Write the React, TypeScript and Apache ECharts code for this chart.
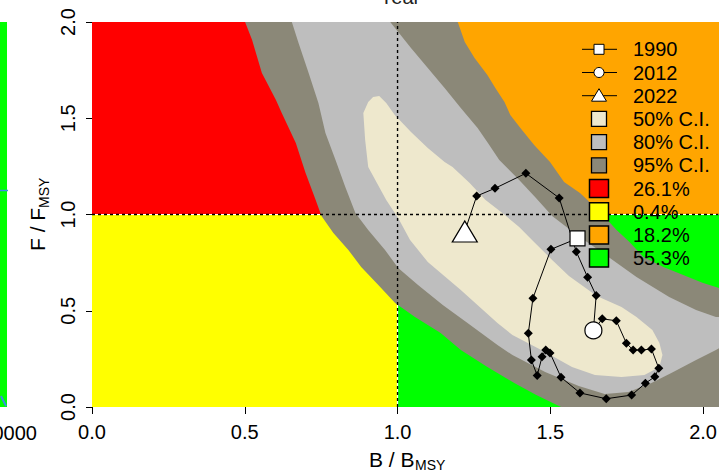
import React, { useEffect, useRef } from 'react';
import * as echarts from 'echarts';

const FONT = '"Liberation Sans", Arial, Helvetica, sans-serif';

// ---- axes ----
const bMax = 2.05;
const fMax = 2;
const tickStep = 0.5;

// ---- stock trajectory (B/Bmsy, F/Fmsy) ----
const trajB = [1.589, 1.502, 1.443, 1.428, 1.438, 1.457, 1.473, 1.485, 1.499, 1.535, 1.597, 1.683, 1.766, 1.811, 1.842, 1.855, 1.831, 1.798, 1.771, 1.749, 1.716, 1.670, 1.641, 1.650, 1.622, 1.585, 1.529, 1.420, 1.319, 1.259, 1.220];
const trajF = [0.876, 0.819, 0.565, 0.383, 0.244, 0.164, 0.261, 0.296, 0.281, 0.154, 0.073, 0.043, 0.062, 0.123, 0.157, 0.201, 0.301, 0.296, 0.296, 0.331, 0.448, 0.458, 0.398, 0.579, 0.674, 0.807, 1.086, 1.214, 1.136, 1.096, 0.912];
const markYears = ['1990', '2012', '2022'];
const markIdx = [0, 22, 30];

// ---- Kobe quadrants: red, yellow, orange, green ----
const quadB0 = [0, 0, 1, 1];
const quadB1 = [1, 1, 2.6, 2.6];
const quadF0 = [1, 0, 1, 0];
const quadF1 = [2.6, 1, 2.6, 1];
const quadPct = [26.1, 0.4, 18.2, 55.3];
const quadColors = ['#FF0000', '#FFFF00', '#FFA500', '#00FF00'];

// ---- confidence regions (B/Bmsy, F/Fmsy outlines) ----
const ci50 = [[0.904, 1.585], [0.920, 1.610], [0.940, 1.616], [0.963, 1.579], [0.991, 1.517], [1.044, 1.429], [1.099, 1.345], [1.154, 1.273], [1.180, 1.247], [1.236, 1.164], [1.288, 1.075], [1.343, 1.008], [1.398, 0.935], [1.450, 0.852], [1.506, 0.764], [1.561, 0.681], [1.652, 0.577], [1.733, 0.519], [1.782, 0.468], [1.834, 0.400], [1.857, 0.332], [1.867, 0.270], [1.857, 0.208], [1.808, 0.166], [1.733, 0.156], [1.646, 0.166], [1.571, 0.208], [1.483, 0.286], [1.376, 0.374], [1.327, 0.436], [1.207, 0.608], [1.099, 0.753], [1.041, 0.868], [1.002, 0.982], [0.963, 1.075], [0.904, 1.247], [0.894, 1.387], [0.888, 1.527]];
const ci80 = [[0.644, 2.052], [0.654, 2.000], [0.676, 1.891], [0.709, 1.735], [0.741, 1.579], [0.764, 1.423], [0.797, 1.283], [0.829, 1.143], [0.862, 1.008], [0.904, 0.919], [0.959, 0.816], [1.002, 0.722], [1.067, 0.634], [1.148, 0.530], [1.229, 0.436], [1.327, 0.322], [1.376, 0.270], [1.483, 0.182], [1.593, 0.109], [1.678, 0.068], [1.756, 0.078], [1.831, 0.125], [1.896, 0.177], [1.977, 0.244], [2.042, 0.296], [2.124, 0.374], [2.140, 0.426], [2.107, 0.462], [2.042, 0.468], [1.977, 0.504], [1.889, 0.571], [1.782, 0.675], [1.672, 0.800], [1.587, 0.894], [1.506, 0.992], [1.450, 1.091], [1.398, 1.179], [1.333, 1.283], [1.298, 1.366], [1.262, 1.449], [1.207, 1.553], [1.154, 1.657], [1.099, 1.761], [1.044, 1.865], [0.976, 2.000], [0.953, 2.052]];
const ci95 = [[0.491, 2.052], [0.501, 2.000], [0.524, 1.906], [0.556, 1.735], [0.602, 1.595], [0.621, 1.527], [0.667, 1.371], [0.699, 1.216], [0.732, 1.075], [0.751, 0.992], [0.790, 0.904], [0.839, 0.816], [0.881, 0.727], [0.937, 0.634], [0.992, 0.540], [1.057, 0.468], [1.141, 0.384], [1.207, 0.296], [1.294, 0.208], [1.382, 0.125], [1.454, 0.062], [1.535, 0.000], [1.620, -0.068], [2.300, -0.120], [2.300, 0.504], [2.172, 0.556], [2.042, 0.623], [2.000, 0.644], [1.935, 0.686], [1.870, 0.727], [1.805, 0.779], [1.759, 0.857], [1.717, 0.919], [1.678, 0.987], [1.646, 1.039], [1.597, 1.112], [1.545, 1.169], [1.499, 1.273], [1.447, 1.361], [1.402, 1.449], [1.369, 1.517], [1.350, 1.584], [1.320, 1.657], [1.294, 1.725], [1.252, 1.813], [1.220, 1.896], [1.197, 2.000], [1.187, 2.052]];
const ciRegions = [ci50, ci80, ci95];
const ciLabels = ['50% C.I.', '80% C.I.', '95% C.I.'];
const ciColors = ['#EEE8CD', '#BEBEBE', '#8B8878'];

function buildOption() {
  const drawOrder = [2, 1, 0];
  const fmt = (v: number) =>
    Math.abs(v / tickStep - Math.round(v / tickStep)) < 1e-6 ? v.toFixed(1) : '';

  // legend graphics
  const symX = 599;
  const textX = 633;
  const rowY = (i: number) => 49.3 + i * 23.2;
  const legend: any[] = [];
  const rowLabels = [...markYears, ...ciLabels, ...quadPct.map((p) => `${p.toFixed(1)}%`)];
  rowLabels.forEach((label, i) => {
    const y = rowY(i);
    if (i < 3) {
      legend.push({ type: 'line', z: 20, shape: { x1: 582, y1: y, x2: 617, y2: y }, style: { stroke: '#000', lineWidth: 1 } });
      if (i === 0) legend.push({ type: 'rect', z: 21, shape: { x: symX - 5, y: y - 5, width: 10, height: 10 }, style: { fill: '#fff', stroke: '#000', lineWidth: 1 } });
      if (i === 1) legend.push({ type: 'circle', z: 21, shape: { cx: symX, cy: y, r: 5 }, style: { fill: '#fff', stroke: '#000', lineWidth: 1 } });
      if (i === 2) legend.push({ type: 'polygon', z: 21, shape: { points: [[symX - 7.5, y + 5.5], [symX + 7.5, y + 5.5], [symX, y - 7]] }, style: { fill: '#fff', stroke: '#000', lineWidth: 1 } });
    } else if (i < 6) {
      legend.push({ type: 'rect', z: 21, shape: { x: symX - 7.5, y: y - 7.5, width: 15, height: 15 }, style: { fill: ciColors[i - 3], stroke: '#000', lineWidth: 1.3 } });
    } else {
      legend.push({ type: 'rect', z: 21, shape: { x: symX - 9.5, y: y - 9, width: 19, height: 18 }, style: { fill: quadColors[i - 6], stroke: '#000', lineWidth: 1.5 } });
    }
    legend.push({ type: 'text', z: 22, x: textX, y, style: { text: label, fill: '#000', font: `20px ${FONT}`, textAlign: 'left', textVerticalAlign: 'middle' } });
  });

  const extras: any[] = [
    // neighbouring panel fragments
    { type: 'rect', z: 5, shape: { x: 0, y: 22, width: 7, height: 385 }, style: { fill: '#00FF00' } },
    { type: 'line', z: 6, shape: { x1: 0, y1: 190.5, x2: 8, y2: 190.5 }, style: { stroke: '#3C8CE7', lineWidth: 1.5 } },
    { type: 'polyline', z: 6, shape: { points: [[1, 396], [6, 406]] }, style: { stroke: '#3C8CE7', lineWidth: 2 } },
    { type: 'text', z: 6, x: 37, y: 433, style: { text: '20000', fill: '#000', font: `20px ${FONT}`, textAlign: 'right', textVerticalAlign: 'middle' } },
    { type: 'text', z: 6, x: 400, y: -3, style: { text: 'Year', fill: '#222', font: `20px ${FONT}`, textAlign: 'center', textVerticalAlign: 'middle' } },
    // axis titles
    { type: 'text', z: 6, x: 369, y: 459, style: { text: 'B / B', fill: '#000', font: `21px ${FONT}`, textAlign: 'left', textVerticalAlign: 'middle' } },
    { type: 'text', z: 6, x: 415, y: 465, style: { text: 'MSY', fill: '#000', font: `14px ${FONT}`, textAlign: 'left', textVerticalAlign: 'middle' } },
    { type: 'text', z: 6, x: 37, y: 251, rotation: Math.PI / 2, style: { text: 'F / F', fill: '#000', font: `21px ${FONT}`, textAlign: 'left', textVerticalAlign: 'middle' } },
    { type: 'text', z: 6, x: 44, y: 208, rotation: Math.PI / 2, style: { text: 'MSY', fill: '#000', font: `14px ${FONT}`, textAlign: 'left', textVerticalAlign: 'middle' } },
  ];

  return {
    animation: false,
    backgroundColor: '#fff',
    grid: { left: 92, top: 22, width: 630.4, height: 385, containLabel: false },
    xAxis: {
      type: 'value', min: 0, max: bMax, interval: tickStep, offset: 1,
      axisLine: { show: false },
      axisTick: { show: true, length: 7, lineStyle: { color: '#000', width: 1 } },
      axisLabel: { fontSize: 20, fontFamily: FONT, color: '#000', margin: 14, formatter: fmt, showMaxLabel: false },
      splitLine: { show: false },
    },
    yAxis: {
      type: 'value', min: 0, max: fMax, interval: tickStep, offset: 1,
      axisLine: { show: false },
      axisTick: { show: true, length: 6, lineStyle: { color: '#000', width: 1 } },
      axisLabel: { fontSize: 20, fontFamily: FONT, color: '#000', margin: 13, rotate: 90, formatter: fmt },
      splitLine: { show: false },
    },
    graphic: { elements: [...extras, ...legend] },
    series: [
      {
        type: 'custom', name: 'quadrants', z: 1, clip: true, silent: true,
        data: quadB0.map((b, i) => [b, quadF0[i]]),
        renderItem: (params: any, api: any) => {
          const i = params.dataIndex;
          const a = api.coord([quadB0[i], quadF1[i]]);
          const b = api.coord([quadB1[i], quadF0[i]]);
          return { type: 'rect', shape: { x: a[0], y: a[1], width: b[0] - a[0], height: b[1] - a[1] }, style: { fill: quadColors[i] } };
        },
      },
      { type: 'line', z: 2, silent: true, symbol: 'none', data: [[1, 0], [1, fMax]], lineStyle: { color: '#fff', width: 1.2 } },
      { type: 'line', z: 2, silent: true, symbol: 'none', data: [[0, 1], [bMax, 1]], lineStyle: { color: '#fff', width: 1.2 } },
      {
        type: 'custom', name: 'CI', z: 3, clip: true, silent: true,
        data: drawOrder.map((k) => ciRegions[k][0]),
        renderItem: (params: any, api: any) => {
          const k = drawOrder[params.dataIndex];
          return { type: 'polygon', shape: { points: ciRegions[k].map((p) => api.coord(p)) }, style: { fill: ciColors[k] } };
        },
      },
      { type: 'line', z: 4, silent: true, symbol: 'none', data: [[1, 0], [1, fMax]], lineStyle: { color: '#000', width: 1.4, type: [3, 3] } },
      { type: 'line', z: 4, silent: true, symbol: 'none', data: [[0, 1], [bMax, 1]], lineStyle: { color: '#000', width: 1.4, type: [3, 3] } },
      {
        type: 'line', name: 'trajectory', z: 5, silent: true,
        data: trajB.map((b, i) => [b, trajF[i]]),
        symbol: 'diamond', symbolSize: 9, showSymbol: true,
        itemStyle: { color: '#000' },
        lineStyle: { color: '#000', width: 1 },
      },
      {
        type: 'scatter', name: 'years', z: 6, silent: true,
        data: markIdx.map((idx, k) => ({
          name: markYears[k],
          value: [trajB[idx], trajF[idx]],
          symbol: ['rect', 'circle', 'triangle'][k],
          symbolSize: [[15, 15], [17, 17], [25, 21]][k],
        })),
        itemStyle: { color: '#fff', borderColor: '#000', borderWidth: 1.2, opacity: 1 },
      },
    ],
  };
}

export default function App() {
  const ref = useRef<HTMLDivElement>(null);
  useEffect(() => {
    if (!ref.current) return;
    const chart = echarts.init(ref.current, null, { renderer: 'svg' });
    chart.setOption(buildOption() as any);
    return () => chart.dispose();
  }, []);
  return (
    <div
      ref={ref}
      style={{ position: 'fixed', left: 0, top: 0, width: 720, height: 473, background: '#fff' }}
    />
  );
}
